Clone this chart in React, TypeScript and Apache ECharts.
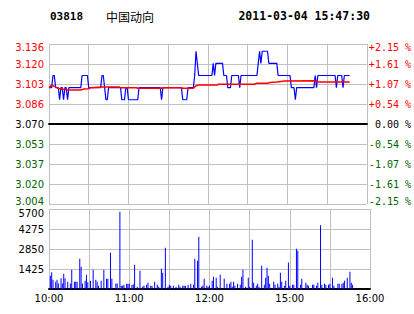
import React, { useEffect, useRef } from "react";
import * as echarts from "echarts";

const STOCK_CODE = "03818";
const STOCK_NAME = "中国动向";
const TIMESTAMP = "2011-03-04 15:47:30";
const PREV_CLOSE = 3.07;

const PRICE_MIN = 3.004;
const PRICE_MAX = 3.136;
const PRICE_STEP = 0.0165;
const PRICE_LABELS = ["3.004", "3.020", "3.037", "3.053", "3.070", "3.086", "3.103", "3.120", "3.136"];
const PCT_LABELS = ["-2.15 %", "-1.61 %", "-1.07 %", "-0.54 %", "\u00a00.00 %", "+0.54 %", "+1.07 %", "+1.61 %", "+2.15 %"];
const VOL_MAX = 5700;
const VOL_STEP = 1425;
const VOL_LABELS = ["", "1425", "2850", "4275", "5700"];
const X_LABELS = ["10:00", "11:00", "12:00", "15:00", "16:00"];
const SESSIONS: [string, string][] = [["10:00", "12:30"], ["14:31", "16:00"]];

// last price per minute, from 10:00
const PRICE = [
  3.10, 3.10, 3.10, 3.11, 3.11, 3.10, 3.10, 3.10, 3.09, 3.10, 3.10, 3.09, 3.10, 3.10, 3.09, 3.10,
  3.10, 3.10, 3.10, 3.10, 3.10, 3.10, 3.10, 3.10, 3.10, 3.11, 3.11, 3.11, 3.11, 3.11,
  3.10, 3.10, 3.10, 3.10, 3.10, 3.10, 3.10, 3.10, 3.10, 3.10,
  3.11, 3.11, 3.10, 3.09, 3.09, 3.10, 3.10, 3.10, 3.10, 3.10, 3.10, 3.10, 3.10, 3.10, 3.10,
  3.09, 3.09, 3.09, 3.10, 3.10,
  3.09, 3.09, 3.09, 3.09, 3.09, 3.09, 3.09, 3.09,
  3.10, 3.10, 3.10, 3.10, 3.10, 3.10, 3.10, 3.10, 3.10, 3.10, 3.10, 3.10, 3.10, 3.10, 3.10, 3.10, 3.10, 3.09,
  3.10, 3.10, 3.10, 3.10, 3.10, 3.10, 3.10, 3.10, 3.10, 3.10, 3.10, 3.10, 3.10, 3.10, 3.10,
  3.09, 3.09, 3.09, 3.09, 3.10, 3.10, 3.10, 3.10, 3.10,
  3.11, 3.13, 3.12, 3.11, 3.11, 3.11, 3.11, 3.11, 3.11, 3.11, 3.11, 3.11, 3.11, 3.11,
  3.12, 3.11, 3.12, 3.12, 3.12, 3.12, 3.12, 3.12, 3.11, 3.11, 3.11, 3.10, 3.10, 3.10,
  3.11, 3.11, 3.11, 3.11, 3.11, 3.11, 3.10,
  3.11, 3.11, 3.11, 3.11, 3.11, 3.11, 3.11, 3.11, 3.11, 3.11, 3.11, 3.11, 3.11,
  3.12, 3.13, 3.12, 3.13, 3.13, 3.13, 3.13, 3.13, 3.12, 3.12, 3.12, 3.12, 3.12, 3.12, 3.12,
  3.11, 3.11, 3.11, 3.11, 3.11, 3.11, 3.11, 3.11, 3.11, 3.11, 3.10, 3.10, 3.10, 3.09,
  3.10, 3.10, 3.10, 3.10, 3.10, 3.10, 3.10, 3.10, 3.10, 3.10, 3.10, 3.10, 3.10, 3.10, 3.11, 3.10,
  3.11, 3.11, 3.11, 3.11, 3.11, 3.11, 3.11, 3.11, 3.11, 3.11, 3.11, 3.11, 3.11, 3.11, 3.10,
  3.11, 3.11, 3.11, 3.11, 3.10, 3.11, 3.11, 3.11, 3.11, 3.11,
];

// average price: [minute index, price]
const AVG_POINTS: [number, number][] = [
  [0, 3.1], [2, 3.102], [4, 3.101], [8, 3.099], [14, 3.098], [24, 3.098], [26, 3.0988], [30, 3.099],
  [31, 3.1], [40, 3.1005], [53, 3.1005], [54, 3.1], [66, 3.1], [67, 3.0995], [85, 3.0995], [86, 3.1],
  [100, 3.1], [101, 3.0995], [109, 3.0995], [111, 3.1015], [113, 3.1022], [127, 3.1022], [128, 3.1028],
  [155, 3.1028], [157, 3.1036], [165, 3.1036], [167, 3.1042], [172, 3.1047], [178, 3.1055], [200, 3.1057],
  [202, 3.1047], [227, 3.1047],
];

// volume: [minute index, shares]
const VOLUME: [number, number][] = [
  [1, 950], [2, 1190], [3, 665], [5, 520], [6, 665], [7, 400], [9, 760], [10, 400], [11, 1090], [12, 760],
  [14, 520], [16, 400], [17, 1380], [19, 520], [20, 520], [21, 520], [23, 2160], [24, 1590], [25, 400],
  [27, 590], [28, 1020], [29, 475], [31, 590], [33, 1380], [35, 665], [36, 520], [37, 240], [39, 590],
  [41, 1380], [43, 735], [44, 735], [46, 2590], [47, 735], [50, 400], [51, 400], [53, 5510], [54, 240],
  [55, 240], [56, 310], [58, 380], [59, 380], [60, 380], [62, 285], [63, 330], [64, 1730], [66, 165],
  [68, 1306], [70, 165], [71, 240], [73, 310], [74, 450], [76, 240], [77, 240], [79, 520], [81, 310],
  [82, 165], [84, 1450], [85, 1165], [87, 2945], [89, 165], [90, 310], [91, 240], [93, 240], [95, 165],
  [97, 310], [98, 165], [100, 240], [101, 240], [102, 240], [104, 310], [106, 380], [108, 310], [109, 2160],
  [111, 2020], [112, 3730], [114, 165], [115, 240], [116, 735], [118, 240], [119, 165], [120, 240],
  [122, 590], [123, 880], [125, 810], [126, 165], [128, 1020], [131, 735], [133, 380], [135, 380],
  [136, 520], [137, 165], [138, 520], [139, 240], [141, 380], [143, 310], [144, 880], [145, 1380],
  [147, 165], [149, 810], [150, 165], [152, 3515], [153, 450], [155, 240], [156, 380], [157, 165],
  [159, 1660], [161, 310], [162, 810], [163, 1520], [164, 950], [165, 380], [168, 520], [169, 310],
  [171, 380], [172, 165], [173, 1165], [174, 520], [176, 240], [177, 590], [179, 1880], [180, 240],
  [182, 310], [183, 310], [185, 2875], [186, 2730], [188, 310], [189, 735], [192, 450], [193, 310],
  [194, 240], [197, 310], [198, 310], [200, 240], [201, 450], [203, 4535], [204, 310], [206, 380],
  [207, 310], [209, 310], [210, 380], [212, 810], [213, 240], [216, 380], [217, 380], [219, 380],
  [220, 450], [221, 590], [223, 810], [225, 1235], [226, 450], [227, 310],
];

function buildCategories(): string[] {
  const out: string[] = [];
  const toMin = (s: string) => {
    const [h, m] = s.split(":").map(Number);
    return h * 60 + m;
  };
  const fmt = (t: number) => {
    const h = Math.floor(t / 60);
    const m = t % 60;
    return `${h < 10 ? "0" : ""}${h}:${m < 10 ? "0" : ""}${m}`;
  };
  SESSIONS.forEach(([a, b]) => {
    for (let t = toMin(a); t <= toMin(b); t++) out.push(fmt(t));
  });
  return out;
}

const RED = "#ff0000";
const GREEN = "#006400";
const GRID_GRAY = "#c0c0c0";
const LABEL_FONT = "DejaVu Sans";
const MONO_FONT = "DejaVu Sans Mono";

export default function App() {
  const ref = useRef<HTMLDivElement>(null);

  useEffect(() => {
    if (!ref.current) return;
    const chart = echarts.init(ref.current, undefined, { renderer: "svg" });
    const cats = buildCategories();

    const priceRich = {
      r: { color: RED, fontFamily: LABEL_FONT, fontSize: 10 },
      rT: { color: RED, fontFamily: LABEL_FONT, fontSize: 10, padding: [6, 0, 0, 0] },
      k: { color: "#000", fontFamily: LABEL_FONT, fontSize: 10 },
      g: { color: GREEN, fontFamily: LABEL_FONT, fontSize: 10 },
      gB: { color: GREEN, fontFamily: LABEL_FONT, fontSize: 10, padding: [0, 0, 6, 0] },
    };
    const pctRich = {
      r: { color: RED, fontFamily: MONO_FONT, fontSize: 10 },
      rT: { color: RED, fontFamily: MONO_FONT, fontSize: 10, padding: [6, 0, 0, 0] },
      k: { color: "#000", fontFamily: MONO_FONT, fontSize: 10 },
      g: { color: GREEN, fontFamily: MONO_FONT, fontSize: 10 },
      gB: { color: GREEN, fontFamily: MONO_FONT, fontSize: 10, padding: [0, 0, 6, 0] },
    };
    const styleFor = (i: number) => (i === 8 ? "rT" : i > 4 ? "r" : i === 4 ? "k" : i === 0 ? "gB" : "g");

    const option: any = {
      animation: false,
      backgroundColor: "#fff",
      grid: [
        { left: 49, top: 44, width: 321, height: 160 },
        { left: 49, top: 209, width: 321, height: 80 },
      ],
      xAxis: [
        {
          type: "category",
          gridIndex: 0,
          data: cats,
          boundaryGap: false,
          axisLine: { lineStyle: { color: "#000", width: 2 } },
          axisTick: { show: false },
          axisLabel: { show: false },
          splitLine: { show: true, interval: 29, lineStyle: { color: GRID_GRAY, width: 1 } },
        },
        {
          type: "category",
          gridIndex: 1,
          data: cats,
          boundaryGap: false,
          axisLine: { lineStyle: { color: "#000", width: 2 } },
          axisTick: { show: false },
          axisLabel: {
            interval: (_i: number, v: string) => X_LABELS.includes(v),
            color: "#000",
            fontFamily: LABEL_FONT,
            fontSize: 10,
            margin: 4,
          },
          splitLine: { show: true, interval: 29, lineStyle: { color: GRID_GRAY, width: 1 } },
        },
      ],
      yAxis: [
        {
          type: "value",
          gridIndex: 0,
          position: "left",
          min: PRICE_MIN,
          max: PRICE_MAX,
          interval: PRICE_STEP,
          axisLine: { show: false },
          axisTick: { show: false },
          splitLine: { show: true, lineStyle: { color: GRID_GRAY, width: 1 } },
          axisLabel: {
            margin: 5,
            formatter: (v: number) => {
              const i = Math.round((v - PRICE_MIN) / PRICE_STEP);
              return `{${styleFor(i)}|${PRICE_LABELS[i]}}`;
            },
            rich: priceRich,
          },
        },
        {
          type: "value",
          gridIndex: 0,
          position: "right",
          min: -2.15,
          max: 2.15,
          interval: 0.5375,
          axisLine: { show: false },
          axisTick: { show: false },
          splitLine: { show: false },
          axisLabel: {
            margin: 2,
            formatter: (v: number) => {
              const i = Math.round((v + 2.15) / 0.5375);
              return `{${styleFor(i)}|${PCT_LABELS[i]}}`;
            },
            rich: pctRich,
          },
        },
        {
          type: "value",
          gridIndex: 1,
          position: "left",
          min: 0,
          max: VOL_MAX,
          interval: VOL_STEP,
          axisLine: { show: false },
          axisTick: { show: false },
          splitLine: { show: true, lineStyle: { color: GRID_GRAY, width: 1 } },
          axisLabel: {
            margin: 5,
            formatter: (v: number) => {
              const i = Math.round(v / VOL_STEP);
              if (!VOL_LABELS[i]) return "";
              return i === 4 ? `{t|${VOL_LABELS[i]}}` : `{n|${VOL_LABELS[i]}}`;
            },
            rich: {
              n: { color: "#000", fontFamily: LABEL_FONT, fontSize: 10 },
              t: { color: "#000", fontFamily: LABEL_FONT, fontSize: 10, padding: [8, 0, 0, 0] },
            },
          },
        },
      ],
      series: [
        {
          name: "price",
          type: "line",
          xAxisIndex: 0,
          yAxisIndex: 0,
          data: PRICE,
          symbol: "none",
          lineStyle: { color: "#0000ff", width: 1.2 },
          z: 3,
          markLine: {
            silent: true,
            symbol: "none",
            label: { show: false },
            lineStyle: { color: "#000", width: 1.5, type: "solid" },
            data: [{ yAxis: PREV_CLOSE }],
          },
        },
        {
          name: "avg",
          type: "line",
          xAxisIndex: 0,
          yAxisIndex: 0,
          data: AVG_POINTS,
          symbol: "none",
          lineStyle: { color: RED, width: 1.5 },
          z: 4,
        },
        {
          name: "volume",
          type: "bar",
          xAxisIndex: 1,
          yAxisIndex: 2,
          data: VOLUME,
          barWidth: 1,
          itemStyle: { color: "#0000ff" },
        },
      ],
      graphic: [
        {
          type: "text",
          x: 50,
          y: 16,
          style: { text: STOCK_CODE, font: `bold 11px "${MONO_FONT}"`, fill: "#000", verticalAlign: "middle" },
        },
        {
          type: "text",
          x: 106,
          y: 16,
          style: { text: STOCK_NAME, font: '12px "Noto Sans CJK SC"', fill: "#000", verticalAlign: "middle" },
        },
        {
          type: "text",
          x: 370,
          y: 16,
          style: {
            text: TIMESTAMP,
            font: `bold 11.5px "${MONO_FONT}"`,
            fill: "#000",
            align: "right",
            verticalAlign: "middle",
          },
        },
      ],
    };

    chart.setOption(option);
    return () => chart.dispose();
  }, []);

  return (
    <div
      ref={ref}
      style={{ position: "fixed", left: 0, top: 0, width: 414, height: 314, background: "#fff" }}
    />
  );
}
